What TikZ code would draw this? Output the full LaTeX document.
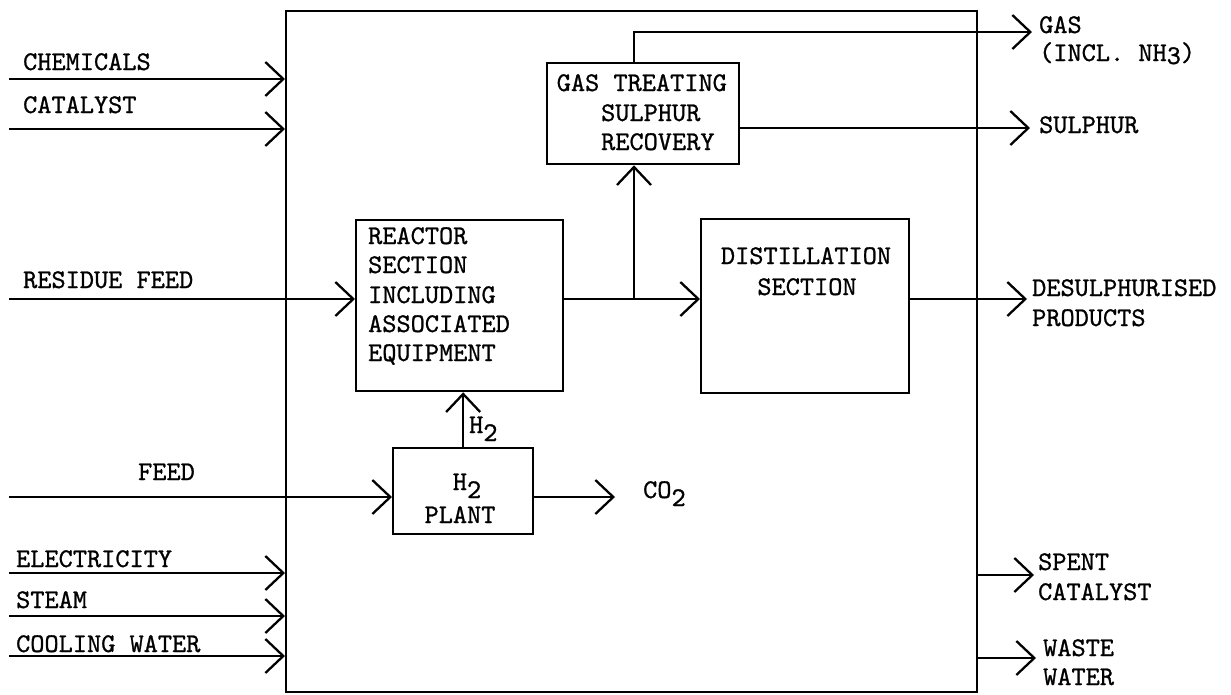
\documentclass[tikz,border=0pt]{standalone}
\usepackage{fontspec}
\usetikzlibrary{arrows.meta}
\newfontfamily\typewr{lmmono10-regular}[Extension=.otf, FakeBold=0.9]
\newcommand\tsub[1]{\raisebox{-8pt}{#1}}
\begin{document}
\begin{tikzpicture}[x=1pt,y=-1pt, line width=2.3pt,
  arr/.style={-{Straight Barb[length=18pt,width=34pt]}},
  box/.style={draw, inner sep=0pt, anchor=north west},
  txt/.style={font=\fontsize{27}{29}\selectfont\typewr, inner sep=0pt, anchor=base west},
  ctxt/.style={txt, anchor=base},
  etxt/.style={txt, anchor=base east}]
\useasboundingbox (0,0) rectangle (1231,694);
% boxes
\node[box, minimum width=691pt, minimum height=681pt] (plant) at (285,10) {};
\node[box, minimum width=192pt, minimum height=101pt] (gas) at (546,62) {};
\node[box, minimum width=207pt, minimum height=171pt] (reactor) at (355,219) {};
\node[box, minimum width=208pt, minimum height=174pt] (dist) at (700,218) {};
\node[box, minimum width=140pt, minimum height=86pt] (h2) at (392,447) {};
% box texts
\node[etxt] (gt1) at (728,91) {GAS TREATING};
\node[txt] (gt2) at (600,121) {SULPHUR};
\node[txt] (gt3) at (600,150) {RECOVERY};
\node[txt] (r1) at (367,244) {REACTOR};
\node[txt] (r2) at (367,273) {SECTION};
\node[txt] (r3) at (367,303) {INCLUDING};
\node[txt] (r4) at (367,332) {ASSOCIATED};
\node[txt] (r5) at (367,361) {EQUIPMENT};
\node[ctxt] (d1) at (806,264) {DISTILLATION};
\node[ctxt] (d2) at (807,295) {SECTION};
\node[ctxt] (p1) at (467,490) {H\tsub{2}};
\node[ctxt] (p2) at (460,523) {PLANT};
% input labels
\node[txt] (lchem) at (22,70) {CHEMICALS};
\node[txt] (lcat) at (22,113) {CATALYST};
\node[txt] (lres) at (22,288) {RESIDUE FEED};
\node[txt] (lfeed) at (137,480) {FEED};
\node[txt] (lel) at (15,567) {ELECTRICITY};
\node[txt] (lst) at (15,608) {STEAM};
\node[txt] (lcw) at (15,652) {COOLING WATER};
% output labels
\node[txt] (ogas1) at (1038,33) {GAS};
\node[txt] (ogas2) at (1038,61) {(INCL. NH\raisebox{-3pt}{3})};
\node[txt] (osul) at (1038,133) {SULPHUR};
\node[txt] (odes1) at (1031,296) {DESULPHURISED};
\node[txt] (odes2) at (1031,326) {PRODUCTS};
\node[txt] (osp1) at (1037,570) {SPENT};
\node[txt] (osp2) at (1037,600) {CATALYST};
\node[txt] (ow1) at (1042,656) {WASTE};
\node[txt] (ow2) at (1042,685) {WATER};
\node[txt] (lh2) at (468,433) {H\tsub{2}};
\node[txt] (lco2) at (642,498) {CO\tsub{2}};
% input connectors
\coordinate (chemS) at (9,79);
\coordinate (catS) at (9,129);
\coordinate (resS) at (9,299);
\coordinate (feedS) at (9,497);
\coordinate (elS) at (9,573);
\coordinate (stS) at (9,616);
\coordinate (cwS) at (9,656);
\draw[arr] (chemS) -- (chemS -| plant.west);
\draw[arr] (catS) -- (catS -| plant.west);
\draw[arr] (resS) -- (resS -| reactor.west);
\draw[arr] (feedS) -- (feedS -| h2.west);
\draw[arr] (elS) -- (elS -| plant.west);
\draw[arr] (stS) -- (stS -| plant.west);
\draw[arr] (cwS) -- (cwS -| plant.west);
% internal connectors
\coordinate (j) at (634,299);
\draw (j -| reactor.east) -- (j);
\draw[arr] (j) -- (j -| dist.west);
\draw[arr] (j) -- (j |- gas.south);
\draw[arr] (h2.north) -- (h2.north |- reactor.south);
% outputs
\coordinate (gasOut) at (1032,32);
\coordinate (sulOut) at (1030,128);
\coordinate (desOut) at (1027,299);
\coordinate (co2Out) at (615,497);
\coordinate (spOut) at (1034,575);
\coordinate (wOut) at (1036,658);
\draw[arr] (j |- gas.north) -- (j |- gasOut) -- (gasOut);
\draw[arr] (sulOut -| gas.east) -- (sulOut);
\draw[arr] (desOut -| dist.east) -- (desOut);
\draw[arr] (co2Out -| h2.east) -- (co2Out);
\draw[arr] (spOut -| plant.east) -- (spOut);
\draw[arr] (wOut -| plant.east) -- (wOut);
\end{tikzpicture}
\end{document}
